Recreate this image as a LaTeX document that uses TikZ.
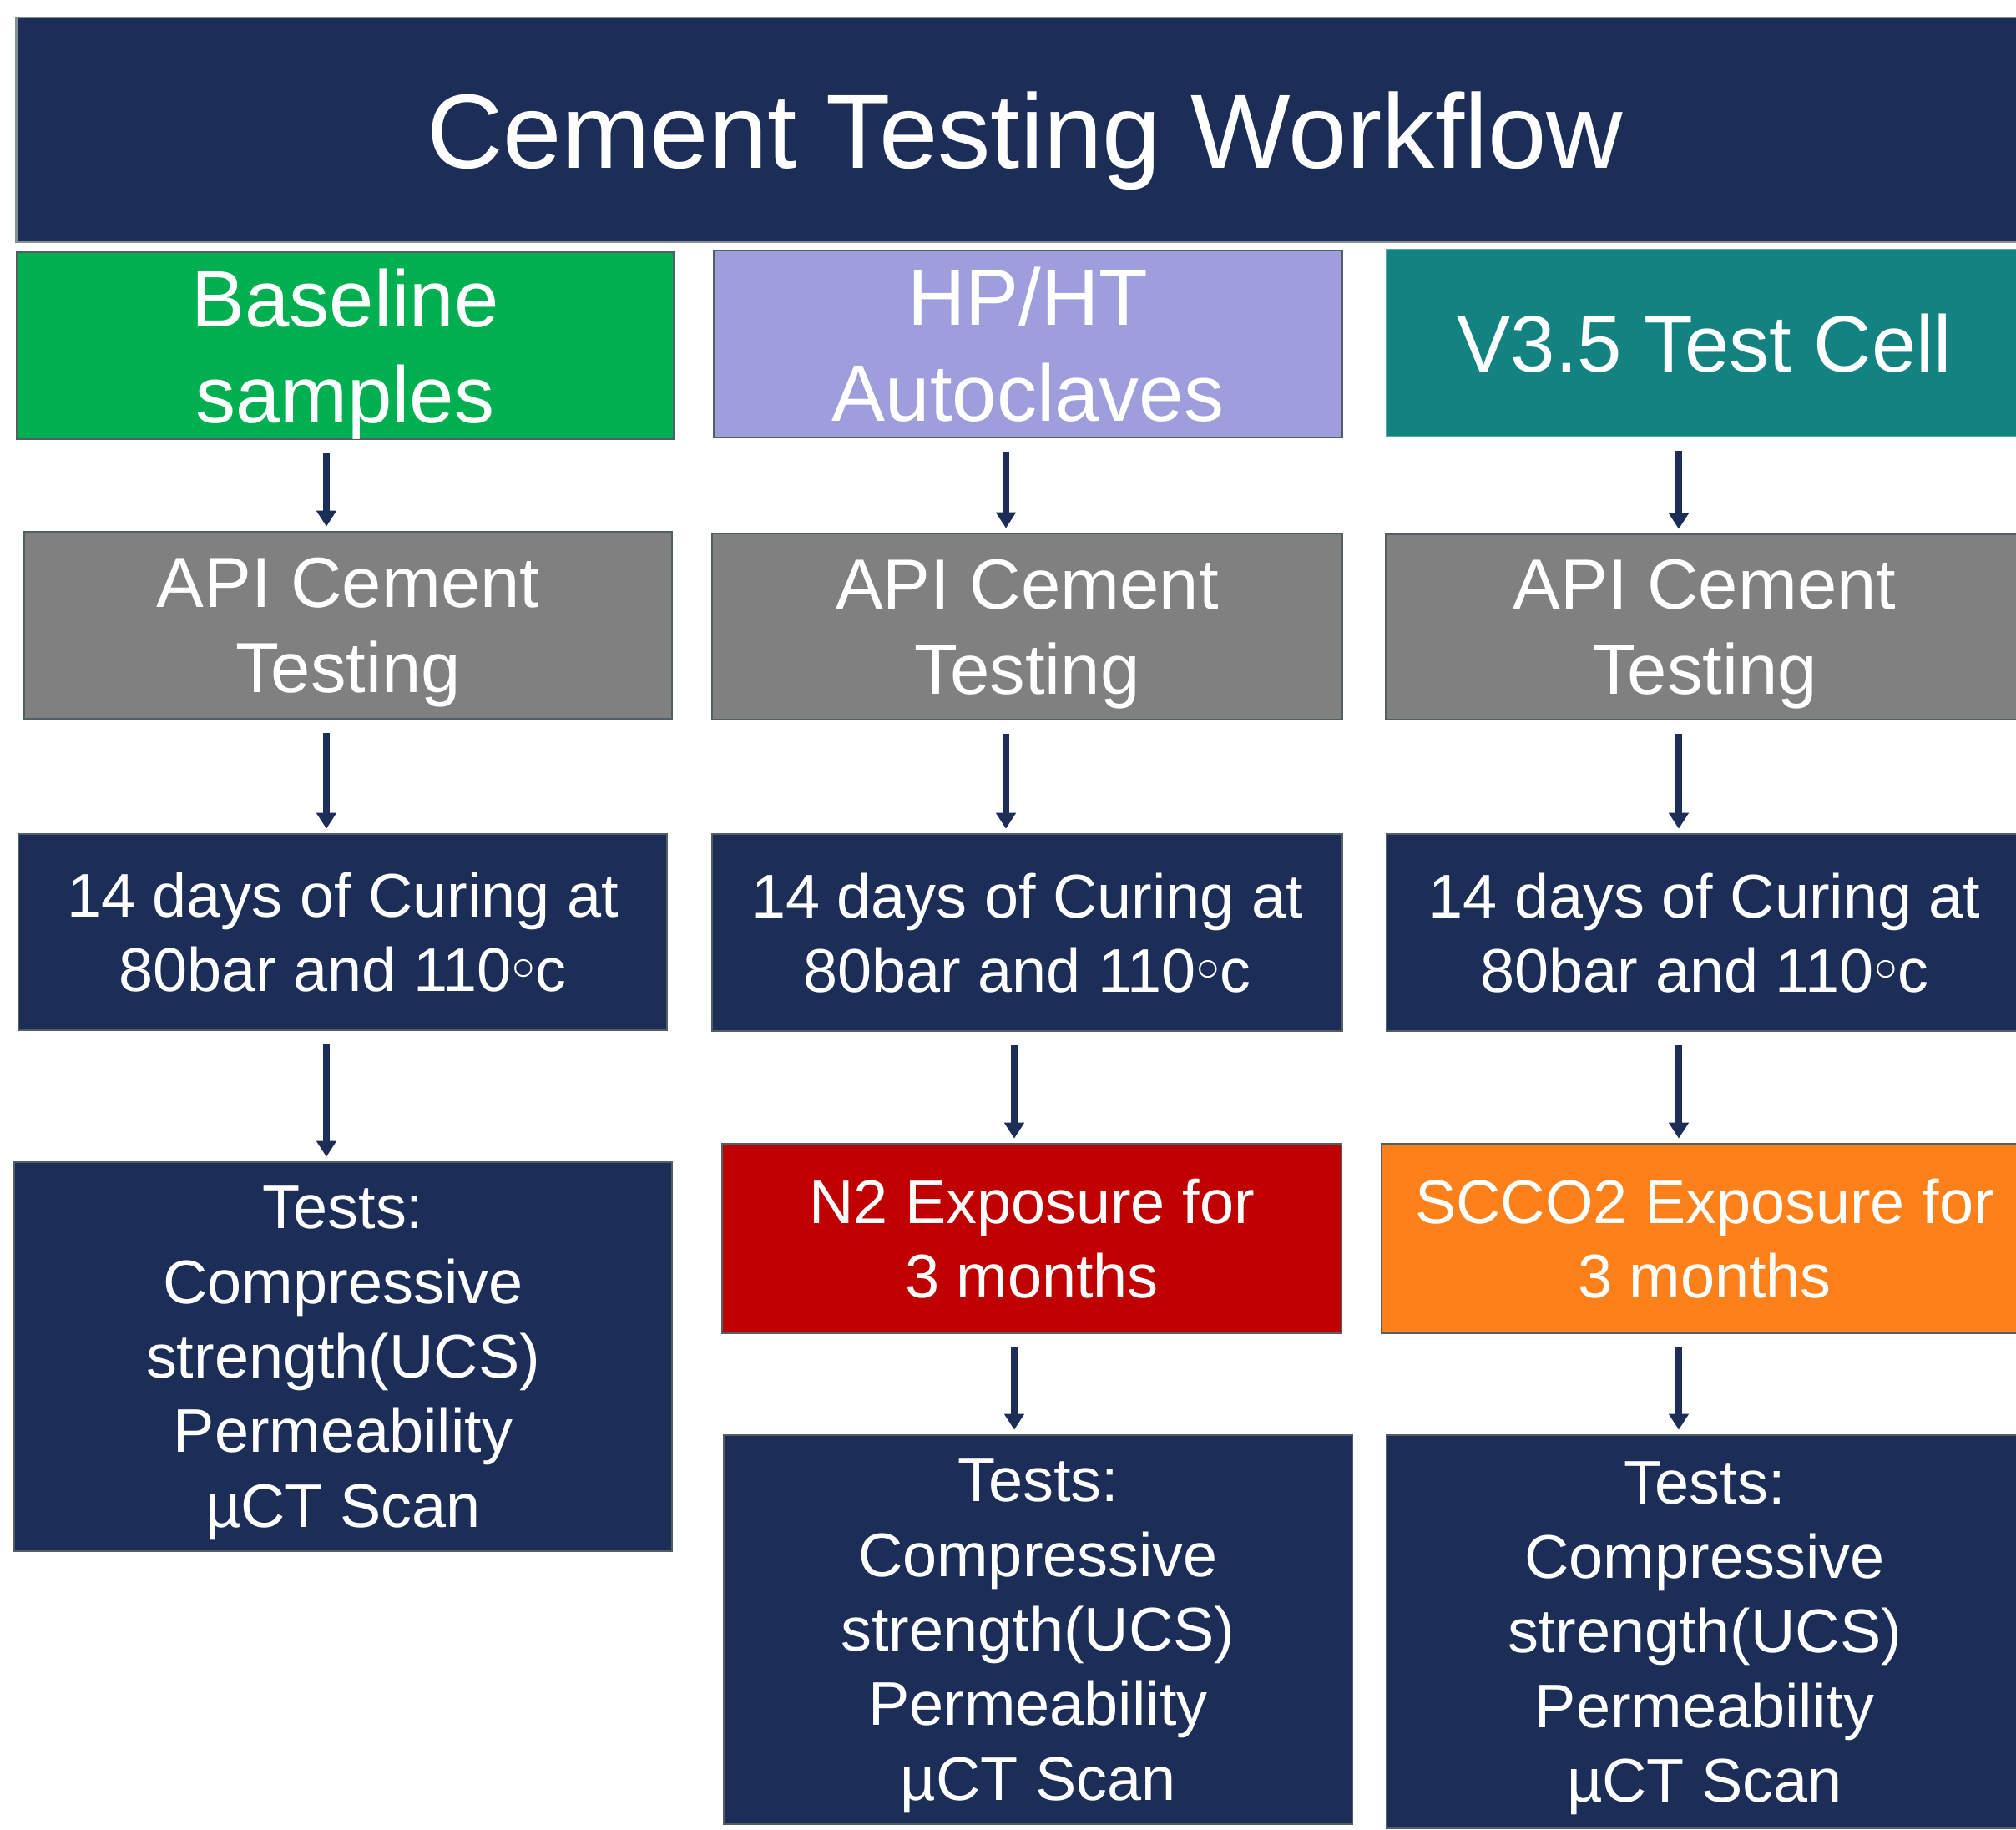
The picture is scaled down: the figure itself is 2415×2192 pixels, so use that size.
\documentclass[tikz,border=0pt]{standalone}
\usepackage{fontspec}
\setmainfont{Liberation Sans}
\newfontfamily\symfont{DejaVu Sans}
\usetikzlibrary{arrows.meta}

\definecolor{navy}{RGB}{28,45,88}
\definecolor{basegreen}{RGB}{0,176,80}
\definecolor{lavender}{RGB}{158,158,221}
\definecolor{cellteal}{RGB}{18,131,129}
\definecolor{apigray}{RGB}{128,128,128}
\definecolor{nred}{RGB}{192,0,0}
\definecolor{sorange}{RGB}{253,128,26}
\definecolor{edgegray}{RGB}{80,96,98}

\newcommand{\bigsize}{\fontsize{36}{43}\selectfont}
\newcommand{\headsize}{\fontsize{27.3}{32.7}\selectfont}
\newcommand{\apisize}{\fontsize{24.2}{29}\selectfont}
\newcommand{\stepsize}{\fontsize{21}{25.4}\selectfont}
\newcommand{\degmark}{\kern-0.1em{\symfont ◦}\kern-0.1em}

\begin{document}
\begin{tikzpicture}[x=0.01cm, y=-0.01cm,
	box/.style={draw=edgegray, line width=0.025cm, text=white, align=center, inner sep=0pt, text depth=0pt},
	flow/.style={-{Triangle[width=0.23cm,length=0.19cm]}, line width=0.075cm, draw=navy,
		shorten <=0.16cm, shorten >=0.05cm}]
	\useasboundingbox (0,0) rectangle (2415,2192);
	\clip (0,0) rectangle (2415,2192);

	% Title bar
	\node[box, fill=navy, draw=edgegray!70, minimum width=24.16cm, minimum height=2.69cm, font=\bigsize]
		(title) at (1228,155.5) {Cement Testing Workflow};

	% Sample sources
	\node[box, fill=basegreen, minimum width=7.87cm, minimum height=2.24cm, font=\headsize]
		(base) at (413.5,414) {Baseline\\samples};
	\node[box, fill=lavender, minimum width=7.53cm, minimum height=2.24cm, font=\headsize]
		(hpht) at (1231.5,412) {HP/HT\\Autoclaves};
	\node[box, fill=cellteal, draw=cellteal!70!white, minimum width=7.62cm, minimum height=2.24cm, font=\headsize]
		(cell) at (2042,411) {V3.5 Test Cell};

	% API testing
	\node[box, fill=apigray, minimum width=7.76cm, minimum height=2.24cm, font=\apisize]
		(api1) at (417,749) {API Cement\\Testing};
	\node[box, fill=apigray, minimum width=7.55cm, minimum height=2.23cm, font=\apisize]
		(api2) at (1230.5,750.5) {API Cement\\Testing};
	\node[box, fill=apigray, minimum width=7.64cm, minimum height=2.22cm, font=\apisize]
		(api3) at (2042,751) {API Cement\\Testing};

	% Curing
	\node[box, fill=navy, minimum width=7.77cm, minimum height=2.35cm, font=\stepsize]
		(cure1) at (410.5,1116.5) {14 days of Curing at\\80bar and 110\degmark c};
	\node[box, fill=navy, minimum width=7.55cm, minimum height=2.36cm, font=\stepsize]
		(cure2) at (1230.5,1117) {14 days of Curing at\\80bar and 110\degmark c};
	\node[box, fill=navy, minimum width=7.62cm, minimum height=2.36cm, font=\stepsize]
		(cure3) at (2042,1117) {14 days of Curing at\\80bar and 110\degmark c};

	% Exposure
	\node[box, fill=nred, minimum width=7.42cm, minimum height=2.27cm, font=\stepsize]
		(expo2) at (1236,1483.5) {N2 Exposure for\\3 months};
	\node[box, fill=sorange, minimum width=7.74cm, minimum height=2.27cm, font=\stepsize]
		(expo3) at (2042,1483.5) {SCCO2 Exposure for\\3 months};

	% Tests
	\node[box, fill=navy, minimum width=7.88cm, minimum height=4.66cm, font=\stepsize]
		(tests1) at (411,1625) {Tests:\\Compressive\\strength(UCS)\\Permeability\\µCT Scan};
	\node[box, fill=navy, minimum width=7.53cm, minimum height=4.66cm, font=\stepsize]
		(tests2) at (1243.5,1952) {Tests:\\Compressive\\strength(UCS)\\Permeability\\µCT Scan};
	\node[box, fill=navy, minimum width=7.62cm, minimum height=4.71cm, font=\stepsize]
		(tests3) at (2042,1954.5) {Tests:\\Compressive\\strength(UCS)\\Permeability\\µCT Scan};

	% Arrow columns
	\coordinate (c1) at (391,0);
	\coordinate (c2) at (1205,0);
	\coordinate (c2b) at (1215,0);
	\coordinate (c3) at (2011,0);

	\draw[flow] (c1 |- base.south) -- (c1 |- api1.north);
	\draw[flow] (c1 |- api1.south) -- (c1 |- cure1.north);
	\draw[flow] (c1 |- cure1.south) -- (c1 |- tests1.north);

	\draw[flow] (c2 |- hpht.south) -- (c2 |- api2.north);
	\draw[flow] (c2 |- api2.south) -- (c2 |- cure2.north);
	\draw[flow] (c2b |- cure2.south) -- (c2b |- expo2.north);
	\draw[flow] (c2b |- expo2.south) -- (c2b |- tests2.north);

	\draw[flow] (c3 |- cell.south) -- (c3 |- api3.north);
	\draw[flow] (c3 |- api3.south) -- (c3 |- cure3.north);
	\draw[flow] (c3 |- cure3.south) -- (c3 |- expo3.north);
	\draw[flow] (c3 |- expo3.south) -- (c3 |- tests3.north);

\end{tikzpicture}
\end{document}
